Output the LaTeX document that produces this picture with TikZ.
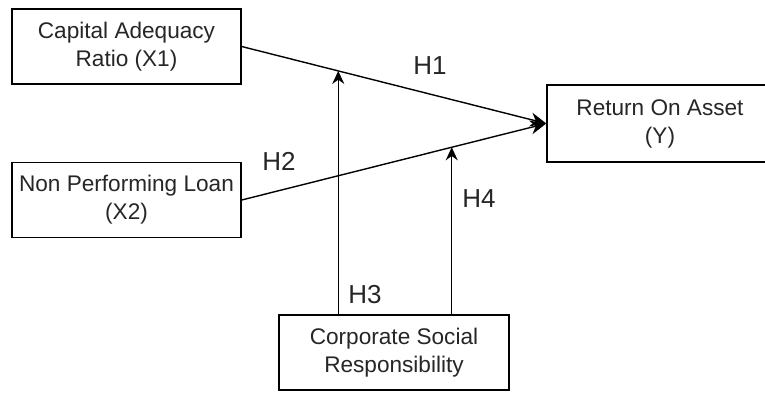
\documentclass[tikz,border=0pt]{standalone}
\usepackage{fontspec}
\setmainfont{Liberation Sans}
\usetikzlibrary{arrows.meta,calc}
\begin{document}
\begin{tikzpicture}[x=1pt,y=-1pt,
  box/.style={draw=black,line width=1.4pt,fill=white,minimum width=229pt,minimum height=75pt,
    inner sep=0pt,align=center,font=\fontsize{22.6}{28}\selectfont,text=black!85},
  conn/.style={line width=1.4pt,draw=black},
  bigtip/.style={-{Stealth[length=16pt,width=14pt]}},
  smalltip/.style={-{Stealth[length=13pt,width=12pt]}},
  hlab/.style={font=\fontsize{26}{30}\selectfont,text=black!85,inner sep=0pt}]
\useasboundingbox (0,0) rectangle (765,392);
\clip (0,0) rectangle (765,392);
\node[box] (x1) at (126.5,46.5) {Capital Adequacy\\Ratio (X1)};
\node[box] (x2) at (126.5,200) {Non Performing Loan\\(X2)};
\node[box,minimum width=226pt,minimum height=77pt] (y) at (660,123.5) {Return On Asset\\(Y)};
\node[box,minimum width=230pt] (csr) at (394,352.5) {Corporate Social\\Responsibility};
\coordinate (m1) at ($(x1.east)!0.317!(y.west)$);
\coordinate (m2) at ($(x2.east)!0.6895!(y.west)$);
\draw[conn,bigtip] (x1.east) -- (y.west);
\draw[conn,bigtip] (x2.east) -- (y.west);
\draw[conn,smalltip] (csr.north -| m1) -- (m1);
\draw[conn,smalltip] (csr.north -| m2) -- (m2);
\node[hlab] (h1) at (430,66) {H1};
\node[hlab] (h2) at (279,161) {H2};
\node[hlab] (h3) at (365,295) {H3};
\node[hlab] (h4) at (479,199) {H4};
\end{tikzpicture}
\end{document}
